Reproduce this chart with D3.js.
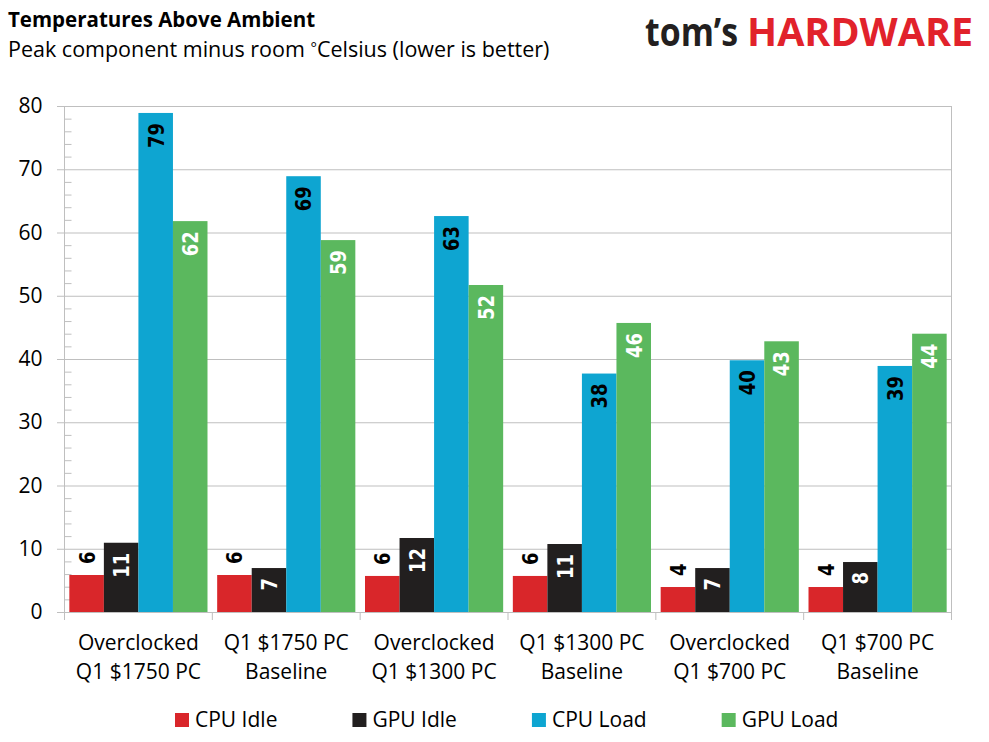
<!DOCTYPE html>
<html>
<head>
<meta charset="utf-8">
<script src="https://cdn.jsdelivr.net/npm/d3@7"></script>
<style>
  body { margin: 0; background: #fff; }
  svg text { font-family: "Open Sans", sans-serif; }
</style>
</head>
<body>
<div id="chart"></div>
<script>
var W = 989, H = 742;
var MARGIN = {top: 106, right: 37.5, bottom: 130, left: 64.5};

// data
var categories = [
  "Overclocked\nQ1 $1750 PC",
  "Q1 $1750 PC\nBaseline",
  "Overclocked\nQ1 $1300 PC",
  "Q1 $1300 PC\nBaseline",
  "Overclocked\nQ1 $700 PC",
  "Q1 $700 PC\nBaseline"
];
var seriesNames = ["CPU Idle", "GPU Idle", "CPU Load", "GPU Load"];
var cpuIdle = [5.85, 5.85, 5.7, 5.7, 3.95, 3.95];
var gpuIdle = [10.95, 6.95, 11.7, 10.75, 6.95, 7.9];
var cpuLoad = [78.9, 68.9, 62.6, 37.7, 39.8, 38.9];
var gpuLoad = [61.8, 58.8, 51.7, 45.7, 42.8, 44.0];
var yTicks = [0, 10, 20, 30, 40, 50, 60, 70, 80];

var seriesColors = ["#d9262a", "#221f1f", "#0ea5d1", "#5bb85e"];
var labelColors = ["#000", "#fff", "#000", "#fff"];
var labelOutside = [true, false, false, false]; //red bars get their value above the bar

var seriesValues = [cpuIdle, gpuIdle, cpuLoad, gpuLoad];
var rows = categories.map(function(c, i) {
  return {cat: c, vals: seriesNames.map(function(s, j) { return {s: s, j: j, v: seriesValues[j][i]}; })};
});

var width = W - MARGIN.left - MARGIN.right,
    height = H - MARGIN.top - MARGIN.bottom;

var svg = d3.select("#chart").append("svg")
    .attr("width", W)
    .attr("height", H);

// titles
svg.append("text").attr("x", 8).attr("y", 27)
    .style("font-weight", "bold").style("font-size", "20.5px")
    .text("Temperatures Above Ambient");
var sub = svg.append("text").attr("x", 8).attr("y", 57)
    .style("font-size", "21.5px");
sub.append("tspan").text("Peak component minus room ");
sub.append("tspan").attr("dy", -4).style("font-size", "15px").text("\u00B0");
sub.append("tspan").attr("dy", 4).text("Celsius (lower is better)");

// logo
svg.append("text").attr("x", 645).attr("y", 46)
    .attr("fill", "#231f20")
    .attr("textLength", 93).attr("lengthAdjust", "spacingAndGlyphs")
    .style("font-weight", "bold").style("font-size", "40px")
    .text("tom\u2019s");
svg.append("text").attr("x", 747).attr("y", 46)
    .attr("fill", "#e1222b")
    .attr("textLength", 226).attr("lengthAdjust", "spacingAndGlyphs")
    .style("font-weight", "bold").style("font-size", "39px")
    .text("HARDWARE");

var g = svg.append("g").attr("transform", "translate(" + MARGIN.left + "," + MARGIN.top + ")");

var x0 = d3.scaleBand().domain(categories).range([0, width]).padding(0);
var x1 = d3.scaleBand().domain(seriesNames).range([0, x0.bandwidth()])
    .paddingInner(0).paddingOuter(0.14);
var y = d3.scaleLinear().domain([0, 80]).range([height, 0]);

// y axis: gridlines + labels
var yAxis = g.append("g")
    .call(d3.axisLeft(y).tickValues(yTicks).tickSize(-width).tickPadding(22));
yAxis.select(".domain").remove();
yAxis.selectAll(".tick line")
    .attr("x1", -7.5)
    .attr("stroke", "#bfbfbf");
yAxis.selectAll(".tick text")
    .style("font-size", "21px")
    .style("font-family", "'Open Sans', sans-serif")
    .attr("fill", "#000");

// minor ticks inside the axis
var minor = d3.range(0, 81, 2).filter(function(d) { return d % 10 != 0; });
g.selectAll(".minor").data(minor).enter().append("line")
    .attr("class", "minor")
    .attr("x1", 0).attr("x2", 7)
    .attr("y1", function(d) { return y(d) + 0.5; })
    .attr("y2", function(d) { return y(d) + 0.5; })
    .attr("stroke", "#bfbfbf");

// left axis line and right border
g.append("line").attr("x1", 0).attr("x2", 0).attr("y1", 0).attr("y2", height)
    .attr("stroke", "#bfbfbf");
g.append("line").attr("x1", width).attr("x2", width).attr("y1", 0).attr("y2", height + 8)
    .attr("stroke", "#bfbfbf");

// category separators on the x axis
var edges = categories.map(function(c) { return x0(c); });
g.selectAll(".sep").data(edges).enter().append("line")
    .attr("class", "sep")
    .attr("x1", function(d) { return d; }).attr("x2", function(d) { return d; })
    .attr("y1", height).attr("y2", height + 8)
    .attr("stroke", "#bfbfbf");

// bars
var groups = g.selectAll(".grp").data(rows).enter().append("g")
    .attr("class", "grp")
    .attr("transform", function(d) { return "translate(" + x0(d.cat) + ",0)"; });

groups.selectAll("rect").data(function(d) { return d.vals; }).enter().append("rect")
    .attr("x", function(d) { return x1(d.s); })
    .attr("width", x1.bandwidth())
    .attr("y", function(d) { return y(d.v); })
    .attr("height", function(d) { return y(0) - y(d.v); })
    .attr("fill", function(d) { return seriesColors[d.j]; });

// value labels, rotated (digits are a bit taller than wide in the original)
var fmt = d3.format(".0f");
groups.selectAll(".lbl").data(function(d) { return d.vals; }).enter().append("text")
    .attr("class", "lbl")
    .attr("transform", function(d) {
      var cx = x1(d.s) + x1.bandwidth() / 2;
      var yy = labelOutside[d.j] ? y(d.v) - 11 : y(d.v) + 10;
      return "translate(" + cx + "," + yy + ") rotate(-90) scale(1,1.22)";
    })
    .attr("dy", "0.36em")
    .attr("text-anchor", function(d) { return labelOutside[d.j] ? "start" : "end"; })
    .style("font-family", "'DejaVu Sans', sans-serif")
    .style("font-weight", "bold")
    .style("font-size", "18px")
    .attr("fill", function(d) { return labelColors[d.j]; })
    .text(function(d) { return fmt(d.v); });

// x axis labels (two lines each)
var xAxis = g.append("g")
    .attr("transform", "translate(0," + height + ")")
    .call(d3.axisBottom(x0).tickSize(0).tickFormat(""));
xAxis.select(".domain").attr("stroke", "#bfbfbf");
xAxis.selectAll(".tick").each(function(c) {
  var t = d3.select(this).append("text")
      .attr("fill", "#000")
      .attr("text-anchor", "middle")
      .style("font-size", "21px")
      .style("font-family", "'Open Sans', sans-serif");
  c.split("\n").forEach(function(line, i) {
    t.append("tspan").attr("x", 0).attr("y", 38 + i * 29).text(line);
  });
});

// legend, laid out left to right
var legend = svg.append("g").attr("class", "legend");
var lx = 175;
seriesNames.forEach(function(s, j) {
  var item = legend.append("g").attr("transform", "translate(" + lx + ",713)");
  item.append("rect").attr("width", 14).attr("height", 14).attr("fill", seriesColors[j]);
  var t = item.append("text").attr("x", 20).attr("y", 14)
      .style("font-size", "21px")
      .text(s);
  lx += 20 + t.node().getComputedTextLength() + 75;
});
</script>
</body>
</html>
